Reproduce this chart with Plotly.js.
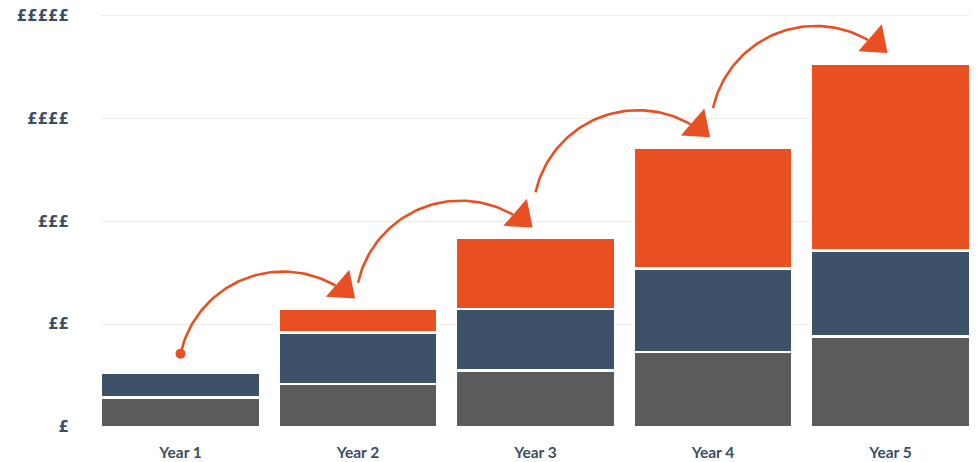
<!DOCTYPE html>
<html>
<head>
<meta charset="utf-8">
<script src="https://cdn.plot.ly/plotly-3.0.1.min.js"></script>
<style>html,body{margin:0;padding:0;background:#fff;}#chart{width:980px;height:462px;}</style>
</head>
<body>
<div id="chart"></div>
<script>
// ---- data ----
const years = ["Year 1", "Year 2", "Year 3", "Year 4", "Year 5"];
const yTickLabels = ["£", "££", "£££", "££££", "£££££"];
const yTickValues = [0, 1, 2, 3, 4];
const grayValues   = [0.29, 0.42, 0.55, 0.73, 0.88];
const blueValues   = [0.24, 0.50, 0.60, 0.81, 0.84];
const orangeValues = [0.00, 0.23, 0.69, 1.18, 1.82];

// ---- layout constants ----
const W = 980, H = 462;
const M = {l: 101, r: 10, t: 10, b: 35};
const xRange = [-0.448, 4.448];
const yRange = [0, 4.058];
const pxX = (W - M.l - M.r) / (xRange[1] - xRange[0]);
const pxY = (H - M.t - M.b) / (yRange[1] - yRange[0]);

const ORANGE = "#e85022", BLUE = "#3d5268", GRAY = "#5b5b5b", TXT = "#3b4e64";
const xIdx = years.map((_, i) => i);

function barTrace(vals, color) {
  return {type: "bar", x: xIdx, y: vals, marker: {color: color, line: {color: "#ffffff", width: 2.6}},
          hoverinfo: "skip", showlegend: false};
}
const traces = [barTrace(grayValues, GRAY), barTrace(blueValues, BLUE), barTrace(orangeValues, ORANGE)];

// ---- curved arrows from each bar to the next ----
const totals = xIdx.map(i => grayValues[i] + blueValues[i] + orangeValues[i]);
const arcR = 105, cOff = [-72, 78];   // arc geometry in pixels relative to arrow tip
const a0 = 167.4 * Math.PI / 180, a1 = 60 * Math.PI / 180;
const headX = [], headY = [];
for (let i = 0; i < years.length - 1; i++) {
  const tipX = (i + 1) - 3 / pxX;
  const tipY = totals[i + 1] + 0.1;
  const ax = [], ay = [];
  for (let k = 0; k <= 60; k++) {
    const a = a0 + (a1 - a0) * k / 60;
    const px = cOff[0] + arcR * Math.cos(a);       // right positive
    const py = cOff[1] - arcR * Math.sin(a);       // down positive
    ax.push(tipX + px / pxX);
    ay.push(tipY - py / pxY);
  }
  traces.push({type: "scatter", mode: "lines", x: ax, y: ay, line: {color: ORANGE, width: 2.6},
               hoverinfo: "skip", showlegend: false});
  if (i === 0) {
    traces.push({type: "scatter", mode: "markers", x: [ax[0]], y: [ay[0]],
                 marker: {color: ORANGE, size: 10, line: {width: 0}}, hoverinfo: "skip", showlegend: false});
  }
  headX.push(tipX - 11.6 / pxX);
  headY.push(tipY + 10.2 / pxY);
}
traces.push({type: "scatter", mode: "markers", x: headX, y: headY,
             marker: {symbol: "triangle-up", angle: 131, size: 31, color: ORANGE, line: {width: 0}},
             hoverinfo: "skip", showlegend: false});

const layout = {
  width: W, height: H, margin: M,
  paper_bgcolor: "#ffffff", plot_bgcolor: "#ffffff",
  barmode: "stack", bargap: 0.104,
  showlegend: false,
  xaxis: {range: xRange, tickvals: xIdx, ticktext: years, showgrid: false, zeroline: false, showline: false,
          ticks: "", ticklabelstandoff: 14,
          tickfont: {family: "Lato, 'Open Sans', sans-serif", size: 15.5, weight: "bold", color: TXT}},
  yaxis: {range: yRange, tickvals: yTickValues, ticktext: yTickLabels, showgrid: true, gridcolor: "#ececec",
          gridwidth: 1, zeroline: false, showline: false, ticks: "", ticklabelstandoff: 31,
          tickfont: {family: "'DejaVu Sans', sans-serif", size: 15, weight: "bold", color: TXT}}
};

Plotly.newPlot("chart", traces, layout, {displayModeBar: false, staticPlot: true});
</script>
</body>
</html>
